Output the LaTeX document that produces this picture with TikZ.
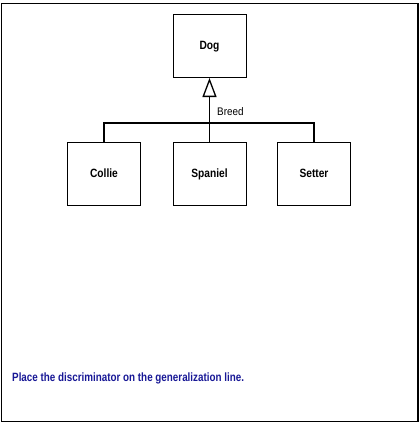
\documentclass[tikz,border=0pt]{standalone}
\usepackage{fontspec}
\setmainfont{Liberation Sans}
\usetikzlibrary{arrows.meta}
\definecolor{noteblue}{RGB}{24,24,150}
\newcommand{\narrowtext}[2][0.85]{\scalebox{#1}[1]{#2}}

\begin{document}
\begin{tikzpicture}[x=1pt, y=-1pt,
    classbox/.style={draw, line width=1pt, minimum width=73pt, minimum height=63pt,
      inner sep=0pt, text height=9pt, text depth=3pt,
      font=\fontsize{12}{14}\selectfont\bfseries},
    link/.style={line width=1.8pt},
    gen/.style={line width=1.3pt, -{Triangle[open, width=14pt, length=19pt]}}]
    \useasboundingbox (0,0) rectangle (420,423);
    \draw[line width=1.6pt] (1.5,3.5) rectangle (418,421.5);
    \node[classbox] (dog) at (209.5,46) {\narrowtext{Dog}};
    \node[classbox] (collie) at (104,174) {\narrowtext{Collie}};
    \node[classbox] (spaniel) at (209.5,174) {\narrowtext{Spaniel}};
    \node[classbox] (setter) at (314,174) {\narrowtext{Setter}};
    \coordinate (bar) at (209.5,123);
    \draw[link] (collie.north) |- (bar) -| (setter.north);
    \draw[link] (spaniel.north) -- (bar);
    \draw[gen] (bar) -- (dog.south);
    \node[anchor=west, inner sep=0pt, font=\fontsize{11}{13}\selectfont] (breed) at (217,112)
      {\narrowtext[0.9]{Breed}};
    \node[anchor=west, text=noteblue, inner sep=0pt] (note) at (12,378)
      {\narrowtext[0.82]{\fontsize{12}{14}\selectfont\bfseries Place the discriminator on the generalization line.}};
\end{tikzpicture}
\end{document}
